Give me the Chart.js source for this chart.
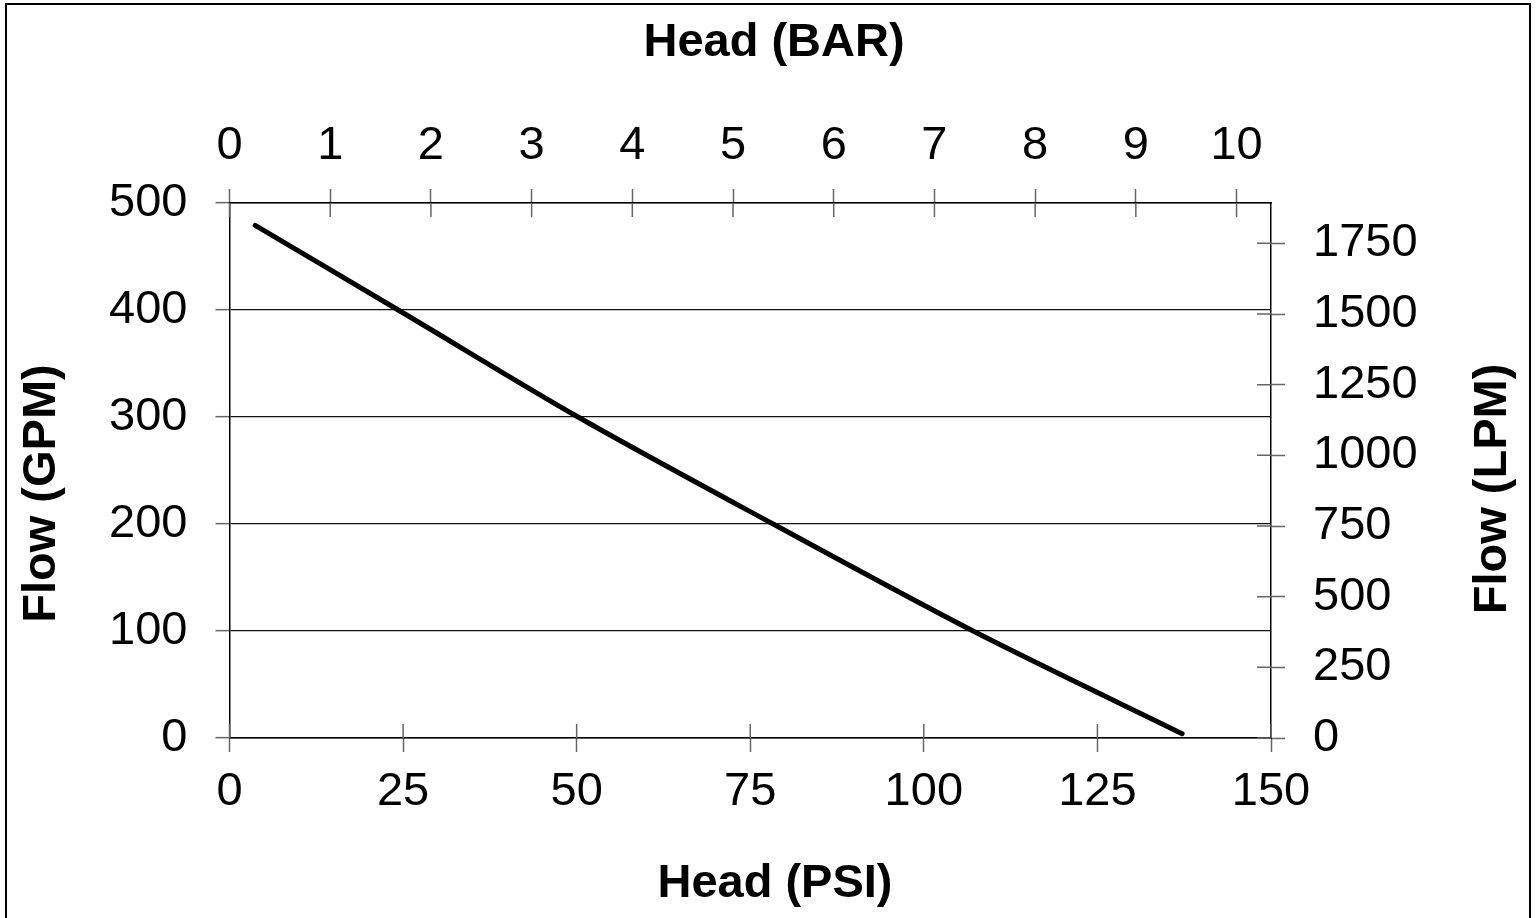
<!DOCTYPE html>
<html>
<head>
<meta charset="utf-8">
<title>Pump curve</title>
<script src="https://cdn.jsdelivr.net/npm/chart.js@4.4.1/dist/chart.umd.min.js"></script>
<style>
  html, body { margin: 0; padding: 0; background: #fff; overflow: hidden; }
  #wrap { position: relative; width: 1538px; height: 918px; }
  #frame { position: absolute; left: 5px; top: 3px; width: 1522px; height: 940px; border: 2px solid #000; pointer-events: none; }
</style>
</head>
<body>
<div id="wrap">
  <canvas id="pumpChart"></canvas>
  <div id="frame"></div>
</div>
<script>
// curve
const psiValues = [3.7, 24.3, 50.2, 78.3, 107.1, 137.2];
const gpmValues = [479, 400, 300, 200, 100, 4];

// axis ranges / ticks
const psiTicks = [0, 25, 50, 75, 100, 125, 150];
const barTicks = [0, 1, 2, 3, 4, 5, 6, 7, 8, 9, 10];
const gpmTicks = [0, 100, 200, 300, 400, 500];
const lpmTicks = [0, 250, 500, 750, 1000, 1250, 1500, 1750];

const PSI_PER_BAR = 14.5038;
const LPM_PER_GPM = 3.78541;

const FONT = "'Liberation Sans', Arial, sans-serif";
const TICK_FONT = { family: FONT, size: 47 };
const TICK_COLOR = '#666';

// draws the inner half of the crossing tick marks
const crossTicks = {
  id: 'crossTicks',
  afterDraw(chart) {
    const { ctx, chartArea } = chart;
    const len = 14;
    ctx.save();
    ctx.strokeStyle = TICK_COLOR;
    ctx.lineWidth = 1.5;
    ctx.beginPath();
    ['x', 'x2'].forEach(id => {
      const s = chart.scales[id];
      const y0 = id === 'x' ? chartArea.bottom : chartArea.top;
      const dir = id === 'x' ? -1 : 1;
      s.ticks.forEach(t => {
        const px = s.getPixelForValue(t.value);
        ctx.moveTo(px, y0);
        ctx.lineTo(px, y0 + dir * len);
      });
    });
    const r = chart.scales.y2;
    r.ticks.forEach(t => {
      const py = r.getPixelForValue(t.value);
      ctx.moveTo(chartArea.right, py);
      ctx.lineTo(chartArea.right - len, py);
    });
    ctx.stroke();
    ctx.restore();
  }
};

// axis titles, centred on the whole figure rather than the plot area
const axisTitles = {
  id: 'axisTitles',
  afterDraw(chart) {
    const { ctx } = chart;
    ctx.save();
    ctx.fillStyle = '#000';
    ctx.font = `bold 47px ${FONT}`;
    ctx.textAlign = 'center';
    ctx.textBaseline = 'alphabetic';
    ctx.fillText('Head (BAR)', 774, 56);
    ctx.fillText('Head (PSI)', 775, 897);
    [['Flow (GPM)', 55, 493.5], ['Flow (LPM)', 1506, 489]].forEach(([txt, x, y]) => {
      ctx.save();
      ctx.translate(x, y);
      ctx.rotate(-Math.PI / 2);
      ctx.fillText(txt, 0, 0);
      ctx.restore();
    });
    ctx.restore();
  }
};

const fixWidth = w => scale => { scale.width = w; };
const fixHeight = h => scale => { scale.height = h; };
const plain = v => String(v);
const border = { display: true, color: '#000', width: 1.5 };

new Chart(document.getElementById('pumpChart'), {
  type: 'scatter',
  data: {
    datasets: [{
      label: 'Flow',
      data: psiValues.map((p, i) => ({ x: p, y: gpmValues[i] })),
      showLine: true,
      borderColor: '#000',
      borderWidth: 5,
      borderCapStyle: 'round',
      borderJoinStyle: 'round',
      tension: 0.3,
      pointRadius: 0,
      pointHoverRadius: 0,
      xAxisID: 'x',
      yAxisID: 'y',
    }],
  },
  options: {
    responsive: true,
    maintainAspectRatio: false,
    animation: false,
    devicePixelRatio: 1,
    layout: { padding: 0 },
    plugins: {
      legend: { display: false },
      tooltip: { enabled: false },
    },
    scales: {
      x: {
        type: 'linear', position: 'bottom',
        min: psiTicks[0], max: psiTicks[psiTicks.length - 1],
        afterFit: fixHeight(180),
        border,
        grid: { drawOnChartArea: false, drawTicks: true, tickLength: 14, tickColor: TICK_COLOR, tickWidth: 1.5 },
        ticks: { stepSize: 25, color: '#000', font: TICK_FONT, padding: 12, maxRotation: 0, includeBounds: false, callback: plain },
      },
      x2: {
        type: 'linear', position: 'top',
        min: barTicks[0], max: psiTicks[psiTicks.length - 1] / PSI_PER_BAR,
        afterFit: fixHeight(203),
        border,
        grid: { drawOnChartArea: false, drawTicks: true, tickLength: 14, tickColor: TICK_COLOR, tickWidth: 1.5 },
        ticks: { stepSize: 1, color: '#000', font: TICK_FONT, padding: 15, maxRotation: 0, autoSkip: false, includeBounds: false, callback: plain },
      },
      y: {
        type: 'linear', position: 'left',
        min: gpmTicks[0], max: gpmTicks[gpmTicks.length - 1],
        afterFit: fixWidth(229.5),
        border,
        grid: { drawOnChartArea: true, color: '#111', lineWidth: 1.3, drawTicks: true, tickLength: 14, tickColor: TICK_COLOR, tickWidth: 1.5 },
        ticks: { stepSize: 100, color: '#000', font: TICK_FONT, padding: 28, includeBounds: false, callback: plain },
      },
      y2: {
        type: 'linear', position: 'right',
        min: lpmTicks[0], max: gpmTicks[gpmTicks.length - 1] * LPM_PER_GPM,
        afterFit: fixWidth(267),
        border,
        grid: { drawOnChartArea: false, drawTicks: true, tickLength: 14, tickColor: TICK_COLOR, tickWidth: 1.5 },
        ticks: { stepSize: 250, color: '#000', font: TICK_FONT, padding: 28, autoSkip: false, includeBounds: false, callback: plain },
      },
    },
  },
  plugins: [crossTicks, axisTitles],
});
</script>
</body>
</html>
